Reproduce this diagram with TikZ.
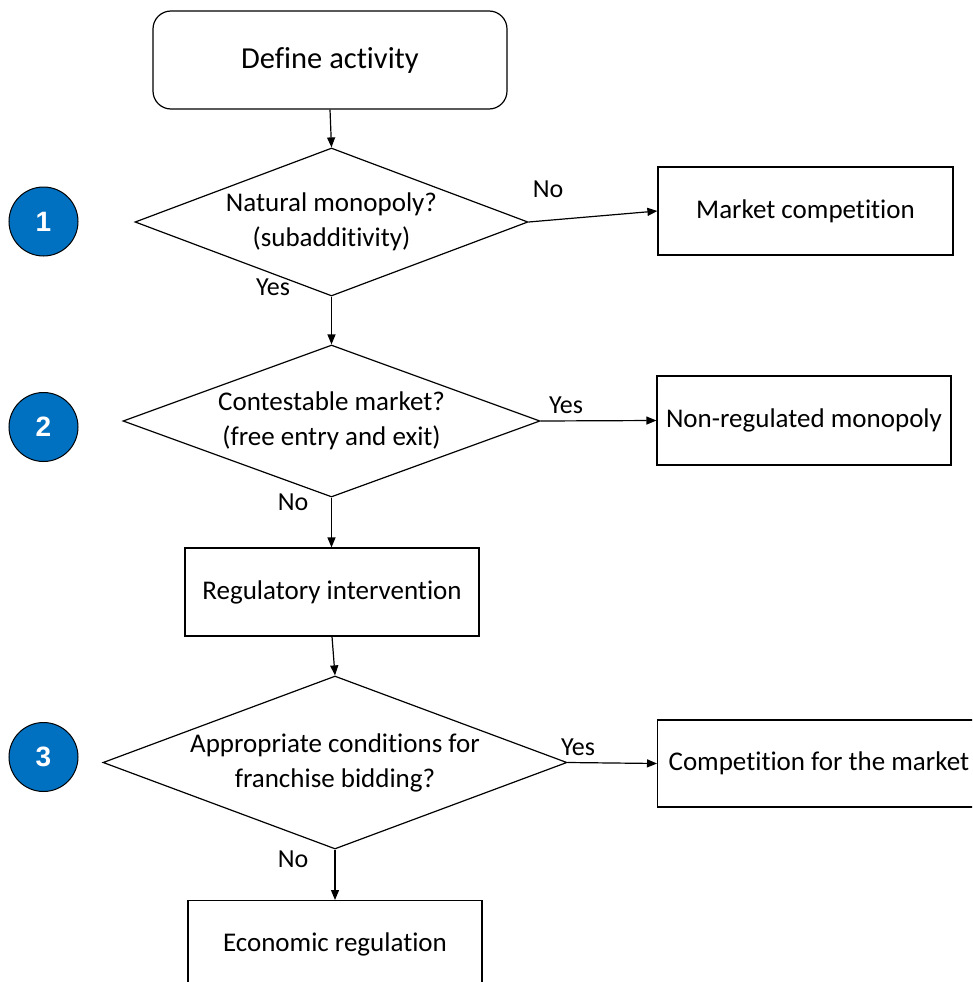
\documentclass[tikz,border=0pt]{standalone}
\usepackage{fontspec}
\setmainfont{Carlito}[Ligatures=NoCommon]
\newfontfamily\numfont{Liberation Sans}
\usetikzlibrary{shapes.geometric,arrows.meta}
\definecolor{stepblue}{RGB}{0,112,192}
\begin{document}
\begin{tikzpicture}[x=1pt,y=-1pt,
  line width=1.2pt,
  box/.style={draw, rectangle, inner sep=0pt, font=\fontsize{27}{32}\selectfont},
  decision/.style={draw, diamond, inner sep=0pt},
  dtext/.style={align=center, inner sep=0pt, font=\fontsize{27}{35}\selectfont},
  lbl/.style={inner sep=0pt, font=\fontsize{26}{30}\selectfont},
  flow/.style={-{Triangle[length=10pt,width=8pt]}},
  badge/.style={circle, draw, line width=1pt, fill=stepblue, minimum size=69pt, inner sep=0pt,
    text=white, font=\numfont\bfseries\fontsize{28}{32}\selectfont}
]
\useasboundingbox (0,0) rectangle (972,982);
\clip (0,0) rectangle (972,982);

% start
\node[box, rounded corners=18pt, minimum width=354pt, minimum height=98pt, font=\fontsize{30.5}{36}\selectfont]
  (start) at (330,60) {Define activity};

% question 1
\node[decision, minimum width=393pt, minimum height=148pt] (d1) at (331.5,222) {};
\node[dtext] (t1) at (d1.center) {Natural monopoly?\\(subadditivity)};
\node[box, minimum width=295pt, minimum height=88pt] (mc) at (805.5,211) {Market competition};

% question 2
\node[decision, minimum width=417pt, minimum height=152pt] (d2) at (331.5,421) {};
\node[dtext] (t2) at (d2.center) {Contestable market?\\(free entry and exit)};
\node[box, minimum width=294pt, minimum height=89pt] (nrm) at (804,420.5) {Non-regulated monopoly};

% intervention
\node[box, minimum width=294pt, minimum height=88pt] (ri) at (332,592) {Regulatory intervention};

% question 3
\node[decision, minimum width=464pt, minimum height=173pt] (d3) at (335,762.5) {};
\node[dtext] (t3) at (d3.center) {Appropriate conditions for\\franchise bidding?};
\node[box, minimum width=330pt, minimum height=87pt, anchor=west] (cfm) at (657,763.5) {};
\node[inner sep=0pt, font=\fontsize{27}{32}\selectfont, anchor=west] (cfmt) at (668,763.5) {Competition for the market};

% outcome
\node[box, minimum width=294pt, minimum height=100pt, anchor=north] (er) at (335,900) {};
\node[inner sep=0pt, font=\fontsize{27}{32}\selectfont] (ert) at (335,944) {Economic regulation};

% step badges
\node[badge] (b1) at (43.5,221.5) {1};
\node[badge] (b2) at (43.5,427) {2};
\node[badge] (b3) at (43.5,757) {3};

% connectors
\draw[flow] (start.south) -- (d1.north);
\draw[flow] (d1.east) -- (mc.west);
\draw[flow] (d1.south) -- (d2.north);
\draw[flow] (d2.east) -- (nrm.west);
\draw[flow] (d2.south) -- (ri.north -| d2.south);
\draw[flow] (ri.south) -- (d3.north);
\draw[flow] (d3.east) -- (cfm.west);
\draw[flow] (d3.south) -- (er.north -| d3.south);

% branch labels
\node[lbl] (no1) at (548,189) {No};
\node[lbl] (yes1) at (273,287) {Yes};
\node[lbl] (yes2) at (566,405) {Yes};
\node[lbl] (no2) at (293,502) {No};
\node[lbl] (yes3) at (578,747) {Yes};
\node[lbl] (no3) at (293,859) {No};
\end{tikzpicture}
\end{document}
